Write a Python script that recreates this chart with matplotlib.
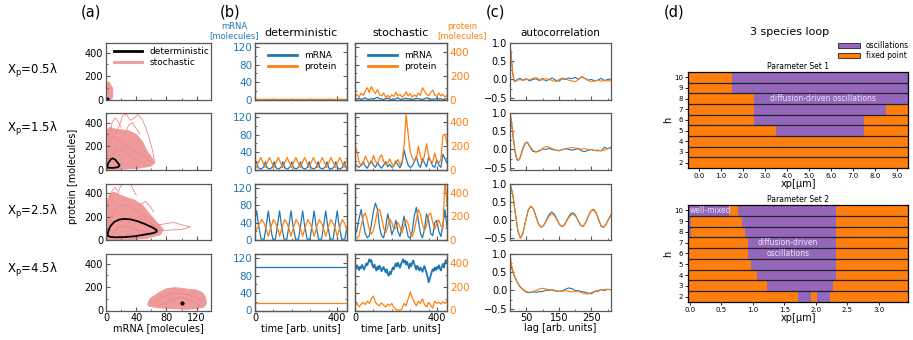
import numpy as np
import matplotlib.pyplot as plt
from matplotlib.lines import Line2D
from matplotlib.patches import Patch
from matplotlib.ticker import FormatStrFormatter

plt.rcParams['font.size'] = 7

BLUE = '#1f77b4'
ORANGE = '#ff7f0e'
PURPLE = '#9467bd'
PINK = '#ef9a9a'
PINK_DARK = '#e98a8a'
SPINE = '0.35'

# ---------------- data ----------------
row_labels = ['X$_\\mathrm{p}$=0.5λ', 'X$_\\mathrm{p}$=1.5λ', 'X$_\\mathrm{p}$=2.5λ', 'X$_\\mathrm{p}$=4.5λ']

# (a) phase plane: stochastic clouds (outline) + a few outlying trajectories, deterministic cycles
cloud_1 = [(0, 0), (0, 120), (2, 145), (4, 150), (6, 125), (9, 95), (9, 30), (8, 5), (4, 0)]
cloud_2 = [(0, 0), (0, 330), (5, 360), (12, 345), (20, 340), (30, 330), (40, 300), (48, 240),
           (55, 150), (62, 90), (65, 60), (60, 30), (45, 12), (25, 4), (10, 0)]
cloud_3 = [(0, 0), (0, 300), (4, 380), (10, 410), (18, 385), (28, 360), (38, 340), (48, 300),
           (58, 220), (66, 160), (72, 120), (76, 90), (72, 45), (55, 15), (35, 3), (15, 0)]
cloud_4 = [(55, 50), (58, 100), (65, 130), (72, 160), (80, 185), (90, 195), (100, 190), (110, 180),
           (120, 175), (128, 150), (132, 110), (133, 60), (130, 30), (120, 15), (105, 10), (85, 15),
           (68, 25), (58, 35)]
outliers_2 = [
    [(12, 300), (18, 380), (22, 460), (27, 470), (32, 420), (38, 440), (42, 470), (48, 430),
     (53, 350), (58, 250), (62, 150), (64, 80)],
    [(5, 300), (8, 400), (12, 440), (16, 410), (20, 360)],
    [(25, 300), (30, 380), (35, 400), (40, 350), (45, 300)],
    [(3, 200), (10, 280), (18, 250), (28, 200), (40, 150), (52, 100), (58, 70)],
    [(6, 100), (14, 180), (24, 160), (34, 110), (46, 60)],
]
outliers_3 = [
    [(15, 380), (18, 440), (22, 480), (28, 485), (33, 470), (36, 430), (40, 380)],
    [(5, 350), (8, 420), (12, 450), (15, 420)],
    [(60, 120), (75, 135), (90, 150), (100, 130), (112, 110), (100, 90), (85, 85), (75, 80)],
    [(45, 300), (52, 330), (58, 290), (63, 240)],
    [(4, 150), (12, 260), (22, 300), (34, 280), (48, 220), (60, 140), (70, 90)],
    [(8, 60), (18, 120), (30, 110), (44, 80), (58, 60)],
]
outliers_4 = [
    [(62, 70), (75, 120), (90, 150), (105, 140), (120, 110), (128, 70)],
    [(70, 40), (85, 90), (100, 110), (115, 80), (125, 40)],
]
det_cycle_2 = [(1.5, 20), (3, 55), (6, 85), (9, 95), (12, 85), (15, 62), (18, 35), (16, 20),
               (10, 14), (5, 14), (2, 16), (1.5, 20)]
det_cycle_3 = [(2, 40), (3, 75), (6, 120), (11, 155), (18, 175), (25, 180), (33, 175), (42, 160),
               (52, 135), (62, 105), (67, 85), (67, 70), (62, 58), (50, 45), (38, 32), (25, 25),
               (12, 23), (5, 27), (2, 40)]
det_point_1 = (1, 8)
det_point_4 = (100, 65)

# (b) deterministic time series
det1_t = [0, 450]
det1_mrna = [1, 1]
det1_prot = [8, 8]

det2_mrna_t = [0, 8, 16, 30, 43, 51, 59, 73, 86, 94, 102, 116, 129, 137, 145, 159, 172, 180, 188,
               202, 215, 223, 231, 245, 258, 266, 274, 288, 301, 309, 317, 331, 344, 352, 360, 374,
               387, 395, 403, 417, 430, 438, 446, 450]
det2_mrna = [10, 18, 4, 1, 6, 18, 4, 1, 6, 18, 4, 1, 6, 18, 4, 1, 6, 18, 4, 1, 6, 18, 4, 1, 6, 18,
             4, 1, 6, 18, 4, 1, 6, 18, 4, 1, 6, 18, 4, 1, 6, 18, 5, 2]
det2_prot_t = [0, 6, 28, 40, 49, 71, 83, 92, 114, 126, 135, 157, 169, 178, 200, 212, 221, 243, 255,
               264, 286, 298, 307, 329, 341, 350, 372, 384, 393, 415, 427, 436, 450]
det2_prot = [40, 17, 102, 55, 17, 102, 55, 17, 102, 55, 17, 102, 55, 17, 102, 55, 17, 102, 55,
             17, 102, 55, 17, 102, 55, 17, 102, 55, 17, 102, 55, 17, 80]

det3_mrna_t = [0, 8, 17, 30, 45, 57, 65, 74, 87, 100, 112, 120, 129, 142, 156, 168, 176, 185, 198,
               213, 225, 233, 242, 255, 269, 281, 289, 298, 311, 326, 338, 346, 355, 368, 382, 394,
               402, 411, 424, 439, 450]
det3_mrna = [50, 67, 35, 2, 2, 40, 67, 35, 2, 2, 40, 67, 35, 2, 2, 40, 67, 35, 2, 2, 40, 67, 35, 2,
             2, 40, 67, 35, 2, 2, 40, 67, 35, 2, 2, 40, 67, 35, 2, 2, 30]
det3_prot_t = [0, 20, 33, 45, 57, 65, 78, 90, 102, 114, 120, 133, 145, 157, 169, 176, 189, 201, 213,
               225, 233, 246, 258, 270, 282, 289, 302, 314, 326, 338, 346, 359, 371, 383, 395, 402,
               415, 427, 439, 450]
det3_prot = [60, 130, 174, 140, 80, 32, 110, 174, 140, 80, 32, 110, 174, 140, 80, 32, 110, 174, 140,
             80, 32, 110, 174, 140, 80, 32, 110, 174, 140, 80, 32, 110, 174, 140, 80, 32, 110, 174,
             140, 85]

det4_t = [0, 450]
det4_mrna = [100, 100]
det4_prot = [60, 60]

# (b) stochastic time series (sampled every 10 time units, row 4 mRNA every 5)
sto1_mrna = [2, 1, 3, 0, 2, 4, 1, 0, 2, 1, 3, 5, 2, 1, 0, 2, 3, 1, 0, 1, 2, 4, 1, 0, 2, 3, 1, 2, 0,
             1, 3, 2, 1, 0, 2, 4, 2, 1, 0, 1, 3, 1, 2, 0, 1, 2]
sto1_prot = [25, 40, 20, 55, 35, 70, 100, 60, 110, 75, 50, 85, 40, 30, 55, 20, 35, 15, 40, 25, 60,
             30, 45, 20, 35, 65, 30, 50, 20, 40, 25, 55, 35, 100, 70, 45, 30, 60, 80, 40, 25, 55,
             30, 45, 20, 35]
sto2_mrna = [15, 8, 5, 10, 18, 8, 3, 12, 20, 10, 5, 15, 8, 3, 10, 18, 6, 12, 5, 8, 20, 10, 4, 15,
             45, 25, 10, 5, 8, 18, 30, 12, 5, 25, 15, 6, 28, 20, 8, 5, 22, 10, 5, 35, 25, 15]
sto2_prot = [210, 150, 60, 30, 50, 112, 80, 40, 60, 120, 70, 45, 100, 125, 70, 40, 55, 90, 50, 30,
             60, 85, 40, 70, 200, 465, 300, 150, 100, 70, 90, 197, 110, 60, 120, 219, 120, 70, 60,
             140, 80, 50, 90, 290, 300, 220]
sto3_mrna = [10, 25, 50, 70, 40, 15, 5, 10, 35, 65, 85, 70, 30, 10, 5, 30, 60, 40, 12, 25, 45, 20,
             8, 30, 55, 30, 8, 4, 20, 55, 75, 45, 15, 5, 25, 60, 45, 15, 10, 40, 45, 20, 8, 35, 70, 30]
sto3_prot = [20, 15, 40, 120, 200, 230, 170, 90, 50, 80, 160, 250, 260, 190, 100, 60, 110, 180, 150,
             90, 100, 150, 110, 60, 120, 170, 140, 60, 30, 80, 170, 260, 220, 130, 80, 120, 210, 230,
             150, 90, 140, 170, 120, 100, 520, 300]
sto4_mrna = [100, 96, 104, 98, 93, 101, 97, 105, 99, 94, 102, 108, 104, 111, 118, 112, 116, 104, 99,
             106, 97, 92, 101, 95, 103, 98, 90, 96, 100, 93, 88, 95, 84, 80, 89, 84, 92, 99, 95, 103,
             108, 101, 110, 104, 98, 107, 112, 118, 110, 115, 106, 112, 104, 97, 108, 102, 110, 115,
             107, 100, 94, 103, 97, 92, 99, 95, 89, 97, 102, 94, 86, 78, 65, 72, 80, 88, 95, 91, 99,
             93, 100, 96, 104, 98, 92, 101, 107, 99, 110, 116, 112]
sto4_prot = [40, 60, 30, 55, 70, 50, 80, 60, 100, 123, 70, 50, 40, 65, 45, 30, 55, 40, 60, 25, 10, 5,
             2, 15, 60, 40, 100, 157, 110, 70, 40, 80, 60, 100, 50, 30, 70, 45, 20, 80, 60, 70, 55,
             75, 60, 80]

# (c) autocorrelation
ac1_lag = [0, 4, 8, 12, 16, 20, 30, 40, 50, 60, 70, 80, 90, 100, 110, 120, 130, 140, 150, 160, 170,
           180, 190, 200, 210, 220, 230, 240, 250, 260, 270, 280, 290, 300, 310]
ac1_mrna = [1.0, 0.6, 0.2, -0.03, -0.06, -0.02, 0.03, -0.02, 0.02, -0.04, 0.0, 0.02, -0.03, 0.03,
            -0.04, 0.0, 0.04, -0.02, -0.05, 0.02, 0.0, 0.04, 0.02, 0.06, 0.0, 0.08, 0.03, -0.02, 0.0,
            -0.04, -0.02, 0.03, -0.03, 0.0, 0.01]
ac1_prot = [1.0, 0.62, 0.22, -0.02, -0.05, -0.04, 0.0, -0.03, 0.01, -0.01, 0.03, 0.05, 0.0, -0.02,
            0.02, 0.0, -0.03, -0.06, 0.0, 0.04, 0.02, -0.02, -0.04, -0.06, 0.0, 0.07, 0.02, -0.03,
            -0.06, -0.04, -0.02, -0.05, -0.03, -0.04, -0.03]
ac2_lag = [0, 5, 10, 15, 20, 25, 30, 35, 40, 45, 50, 55, 60, 70, 80, 90, 100, 110, 120, 130, 140,
           150, 160, 170, 180, 190, 200, 210, 220, 230, 240, 250, 260, 270, 280, 290, 300, 310]
ac2_mrna = [1.0, 0.7, 0.3, -0.05, -0.25, -0.31, -0.25, -0.1, 0.05, 0.15, 0.2, 0.17, 0.08, -0.05,
            -0.07, -0.03, 0.01, 0.0, 0.03, 0.0, -0.02, -0.03, -0.01, 0.02, 0.0, -0.02, 0.0, 0.02,
            -0.04, -0.06, -0.02, 0.0, -0.03, -0.02, -0.04, 0.06, 0.02, 0.06]
ac2_prot = [1.0, 0.75, 0.35, 0.0, -0.22, -0.3, -0.26, -0.13, 0.02, 0.13, 0.2, 0.19, 0.1, -0.02,
            -0.07, -0.05, 0.03, 0.08, 0.07, 0.02, -0.02, -0.04, -0.01, 0.02, 0.04, 0.05, 0.04, 0.03,
            0.01, 0.02, 0.0, -0.01, -0.03, -0.04, -0.03, -0.02, 0.02, 0.04]
ac3_lag = [0, 8, 16, 24, 32, 40, 48, 56, 64, 72, 80, 88, 96, 104, 112, 120, 128, 136, 144, 152, 160,
           168, 176, 184, 192, 200, 208, 216, 224, 232, 240, 248, 256, 264, 272, 280, 288, 296, 304,
           312]
ac3_mrna = [1.0, 0.72, 0.2, -0.3, -0.5, -0.35, -0.02, 0.28, 0.38, 0.3, 0.08, -0.13, -0.2, -0.14, 0.0,
            0.15, 0.22, 0.16, 0.02, -0.13, -0.18, -0.12, 0.02, 0.15, 0.2, 0.15, 0.0, -0.14, -0.18,
            -0.08, 0.1, 0.24, 0.28, 0.2, 0.0, -0.18, -0.2, -0.1, 0.05, 0.17]
ac3_prot = [1.0, 0.74, 0.22, -0.28, -0.5, -0.36, -0.03, 0.27, 0.38, 0.3, 0.09, -0.12, -0.2, -0.15,
            -0.02, 0.1, 0.16, 0.12, 0.0, -0.13, -0.19, -0.13, 0.0, 0.11, 0.15, 0.12, 0.0, -0.13,
            -0.18, -0.08, 0.1, 0.25, 0.3, 0.22, 0.02, -0.16, -0.2, -0.1, 0.04, 0.16]
ac4_lag = [0, 5, 10, 15, 20, 25, 30, 40, 50, 60, 70, 80, 90, 100, 110, 120, 130, 140, 150, 160, 170,
           180, 190, 200, 210, 220, 230, 240, 250, 260, 270, 280, 290, 300, 310]
ac4_mrna = [0.8, 0.62, 0.48, 0.36, 0.26, 0.18, 0.11, 0.02, -0.05, -0.06, -0.04, -0.05, -0.03, -0.03,
            0.01, 0.0, 0.02, -0.01, -0.02, -0.01, 0.03, 0.07, 0.05, 0.0, -0.01, -0.03, -0.05, -0.07,
            -0.09, -0.03, -0.02, 0.02, 0.0, 0.03, 0.02]
ac4_prot = [1.0, 0.7, 0.5, 0.37, 0.27, 0.19, 0.12, 0.03, -0.03, -0.05, -0.03, 0.0, 0.04, 0.06, 0.04,
            0.02, 0.0, -0.02, -0.03, -0.02, -0.01, -0.02, -0.04, -0.02, -0.03, -0.06, -0.09, -0.1,
            -0.06, -0.02, 0.0, 0.02, 0.03, 0.03, 0.02]

# (d) phase diagrams: oscillation intervals in xp for each h
h_values = [10, 9, 8, 7, 6, 5, 4, 3, 2]
set1_osc = [[(1.5, 9.5)], [(1.5, 9.5)], [(2.5, 9.5)], [(2.5, 8.5)], [(2.5, 7.5)], [(3.5, 7.5)],
            [], [], []]
set2_osc = [[(-0.03, 0.62), (0.77, 2.31)], [(-0.03, 0.02), (0.82, 2.31)],
            [(-0.03, 0.02), (0.87, 2.31)], [(0.92, 2.31)], [(0.92, 2.31)], [(0.97, 2.31)],
            [(1.07, 2.31)], [(1.23, 2.27)], [(1.72, 1.92), (2.02, 2.22)]]

# ---------------- figure ----------------
W, H = 913, 340
fig = plt.figure(figsize=(W / 100, H / 100), dpi=100)


def box(x0, y0, x1, y1):
    return fig.add_axes([x0 / W, 1 - y1 / H, (x1 - x0) / W, (y1 - y0) / H])


def style(ax):
    for s in ax.spines.values():
        s.set_color(SPINE)
        s.set_linewidth(0.9)
    ax.tick_params(which='both', direction='in', labelsize=7, pad=2, color=SPINE)
    ax.tick_params(which='major', length=3)
    ax.tick_params(which='minor', length=1.5)


row_tops = [43, 113, 183.5, 254]
row_h = 56.5

clouds = [cloud_1, cloud_2, cloud_3, cloud_4]
outliers = [[], outliers_2, outliers_3, outliers_4]
det_a = [det_point_1, det_cycle_2, det_cycle_3, det_point_4]

det_series = [(det1_t, det1_mrna, det1_t, det1_prot),
              (det2_mrna_t, det2_mrna, det2_prot_t, det2_prot),
              (det3_mrna_t, det3_mrna, det3_prot_t, det3_prot),
              (det4_t, det4_mrna, det4_t, det4_prot)]
sto_series = [(sto1_mrna, sto1_prot), (sto2_mrna, sto2_prot), (sto3_mrna, sto3_prot),
              (sto4_mrna, sto4_prot)]
ac_series = [(ac1_lag, ac1_mrna, ac1_prot), (ac2_lag, ac2_mrna, ac2_prot),
             (ac3_lag, ac3_mrna, ac3_prot), (ac4_lag, ac4_mrna, ac4_prot)]

for i in range(4):
    top = row_tops[i]
    bot = top + row_h
    last = i == 3

    # ---- (a) phase plane
    ax = box(106, top, 211, bot)
    xs, ys = zip(*clouds[i])
    ax.fill(xs, ys, color=PINK, lw=0.6, ec=PINK)
    for tr in outliers[i]:
        ox, oy = zip(*tr)
        ax.plot(ox, oy, color=PINK_DARK, lw=0.6)
    if isinstance(det_a[i], tuple):
        ax.plot(*det_a[i], 'o', color='k', ms=2)
    else:
        dx, dy = zip(*det_a[i])
        ax.plot(dx, dy, color='k', lw=1.3)
    ax.set_xlim(0, 139)
    ax.set_ylim(0, 482)
    ax.set_xticks([0, 40, 80, 120])
    ax.set_xticks([20, 60, 100], minor=True)
    ax.set_yticks([0, 200, 400])
    ax.set_yticks([100, 300], minor=True)
    style(ax)
    if not last:
        ax.tick_params(labelbottom=False)
    else:
        ax.set_xlabel('mRNA [molecules]', fontsize=7, labelpad=0)
    if i == 0:
        ax.legend(handles=[Line2D([], [], color='k', lw=2, label='deterministic'),
                           Line2D([], [], color=PINK, lw=2, label='stochastic')],
                  loc='upper left', bbox_to_anchor=(0.02, 1.02), frameon=False, fontsize=6.5,
                  handlelength=3.2, labelspacing=0.2, borderaxespad=0.2)

    # ---- (b) deterministic
    axd = box(255, top, 347, bot)
    axd2 = axd.twinx()
    mt, mv, pt, pv = det_series[i]
    axd.plot(mt, mv, color=BLUE, lw=0.9)
    axd2.plot(pt, pv, color=ORANGE, lw=0.9)
    # ---- (b) stochastic
    axs = box(355, top, 447, bot)
    axs2 = axs.twinx()
    sm, sp = sto_series[i]
    axs.plot(np.linspace(0, 450, len(sm)), sm, color=BLUE, lw=1.3 if last else 0.9)
    axs2.plot(np.linspace(0, 450, len(sp)), sp, color=ORANGE, lw=0.9)

    for a, a2, side in [(axd, axd2, 'left'), (axs, axs2, 'right')]:
        a.set_xlim(0, 450)
        a.set_ylim(0, 130)
        a2.set_ylim(0, 480)
        a.set_xticks([0, 400])
        a.set_xticks([90, 180, 270, 360], minor=True)
        a.set_yticks([0, 40, 80, 120])
        a.set_yticks([20, 60, 100], minor=True)
        a2.set_yticks([0, 200, 400])
        a2.set_yticks([100, 300], minor=True)
        style(a)
        style(a2)
        a.tick_params(axis='y', labelcolor=BLUE, labelsize=7.5)
        a2.tick_params(axis='y', labelcolor=ORANGE, labelsize=7.5)
        if side == 'left':
            a2.tick_params(axis='y', labelright=False)
        else:
            a.tick_params(axis='y', labelleft=False)
        if not last:
            a.tick_params(labelbottom=False)
        else:
            a.set_xlabel('time [arb. units]', fontsize=7, labelpad=0)
        if i == 0:
            a2.legend(handles=[Line2D([], [], color=BLUE, lw=2, label='mRNA'),
                               Line2D([], [], color=ORANGE, lw=2, label='protein')],
                      loc='upper left', bbox_to_anchor=(0.05, 1.0), frameon=False, fontsize=6.5,
                      handlelength=3.2, labelspacing=0.2)

    # ---- (c) autocorrelation
    axc = box(510, top, 611, bot)
    lag, am, ap = ac_series[i]
    axc.plot(lag, am, color=BLUE, lw=0.8)
    axc.plot(lag, ap, color=ORANGE, lw=0.8)
    axc.set_xlim(0, 310)
    axc.set_ylim(-0.55, 1.0)
    axc.set_xticks([50, 150, 250])
    axc.set_xticks([100, 200, 300], minor=True)
    axc.set_yticks([-0.5, 0.0, 0.5, 1.0])
    axc.set_yticks([-0.25, 0.25, 0.75], minor=True)
    style(axc)
    if not last:
        axc.tick_params(labelbottom=False)
    else:
        axc.set_xlabel('lag [arb. units]', fontsize=7, labelpad=0)

    fig.text(7 / W, 1 - [71, 129, 212, 270][i] / H, row_labels[i], fontsize=8.5, va='center')

# column texts
fig.text(91 / W, 1 - 12 / H, '(a)', fontsize=10.5, ha='center', va='center')
fig.text(230 / W, 1 - 12 / H, '(b)', fontsize=10.5, ha='center', va='center')
fig.text(495 / W, 1 - 12 / H, '(c)', fontsize=10.5, ha='center', va='center')
fig.text(674 / W, 1 - 12 / H, '(d)', fontsize=10.5, ha='center', va='center')
fig.text(301 / W, 1 - 33 / H, 'deterministic', fontsize=8, ha='center', va='center')
fig.text(401 / W, 1 - 33 / H, 'stochastic', fontsize=8, ha='center', va='center')
fig.text(560 / W, 1 - 33 / H, 'autocorrelation', fontsize=7.5, ha='center', va='center')
fig.text(234 / W, 1 - 31 / H, 'mRNA\n[molecules]', fontsize=6, color=BLUE, ha='center',
         va='center', linespacing=1.0)
fig.text(462 / W, 1 - 31 / H, 'protein\n[molecules]', fontsize=6, color=ORANGE, ha='center',
         va='center', linespacing=1.0)
fig.text(73 / W, 1 - 176 / H, 'protein [molecules]', fontsize=7, rotation=90, ha='center',
         va='center')

# ---------------- (d) ----------------
fig.text(790 / W, 1 - 32 / H, '3 species loop', fontsize=8, ha='center', va='center')
fig.legend(handles=[Patch(facecolor=PURPLE, edgecolor='k', lw=0.5, label='oscillations'),
                    Patch(facecolor=ORANGE, edgecolor='k', lw=0.5, label='fixed point')],
           loc='upper right', bbox_to_anchor=(912 / W, 1 - 38 / H), frameon=False, fontsize=5.5,
           handlelength=2.8, handleheight=0.7, labelspacing=0.15, borderaxespad=0)

for ax_box, osc, xlim, xt, title in [((688, 72, 908, 168), set1_osc, (-0.5, 9.5),
                                      np.arange(0, 10, 1.0), 'Parameter Set 1'),
                                     ((688, 205, 908, 302), set2_osc, (-0.03, 3.46),
                                      np.arange(0, 3.01, 0.5), 'Parameter Set 2')]:
    ax = box(*ax_box)
    ax.barh(h_values, xlim[1] - xlim[0], left=xlim[0], height=1, color=ORANGE, lw=0)
    for h, segs in zip(h_values, osc):
        for s0, s1 in segs:
            ax.barh(h, s1 - s0, left=s0, height=1, color=PURPLE, lw=0)
    for h in h_values[:-1]:
        ax.axhline(h - 0.5, color='#222222', lw=0.9)
    ax.set_xlim(*xlim)
    ax.set_ylim(1.5, 10.5)
    ax.set_yticks(h_values)
    ax.set_xticks(xt)
    ax.xaxis.set_major_formatter(FormatStrFormatter('%.1f'))
    ax.tick_params(labelsize=5, length=2, pad=1.5, width=0.6)
    for s in ax.spines.values():
        s.set_linewidth(0.9)
    ax.set_title(title, fontsize=5.5, pad=2)
    ax.set_xlabel('xp[μm]', fontsize=7, labelpad=0)
    ax.set_ylabel('h', fontsize=7, labelpad=1)

ax1, ax2 = fig.axes[-2], fig.axes[-1]
ax1.text(5.65, 8, 'diffusion-driven oscillations', fontsize=5.5, color='#ece4f4', ha='center',
         va='center')
ax2.text(0.0, 10, 'well-mixed', fontsize=5.5, color='#ece4f4', ha='left', va='center')
ax2.text(1.56, 7, 'diffusion-driven', fontsize=5.5, color='#ece4f4', ha='center', va='center')
ax2.text(1.56, 6, 'oscillations', fontsize=5.5, color='#ece4f4', ha='center', va='center')

fig.savefig('out.png', dpi=100)
